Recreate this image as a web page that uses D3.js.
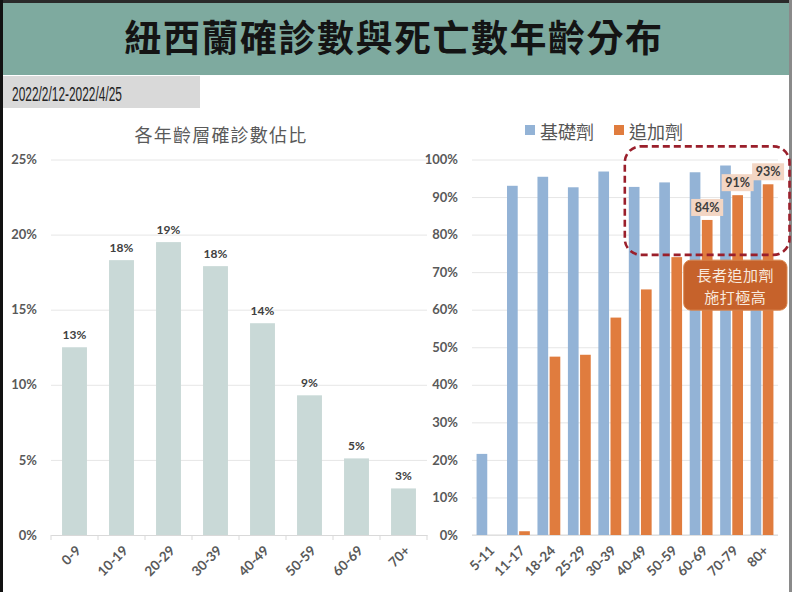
<!DOCTYPE html>
<html>
<head>
<meta charset="utf-8">
<script src="https://cdn.jsdelivr.net/npm/d3@7"></script>
<style>
  html, body { margin: 0; padding: 0; background: #fff; }
  svg { display: block; }
</style>
</head>
<body>
<svg id="chart" width="792" height="592"></svg>
<script>
// ---------- DATA ----------
const titleText = "紐西蘭確診數與死亡數年齡分布";
const dateText = "2022/2/12-2022/4/25";
const leftTitle = "各年齡層確診數佔比";

const ageGroupsL = ["0-9", "10-19", "20-29", "30-39", "40-49", "50-59", "60-69", "70+"];
const casePct = [12.5, 18.3, 19.5, 17.9, 14.1, 9.3, 5.1, 3.1];
const caseLabels = ["13%", "18%", "19%", "18%", "14%", "9%", "5%", "3%"];
const leftTicks = [0, 5, 10, 15, 20, 25];

const ageGroupsR = ["5-11", "11-17", "18-24", "25-29", "30-39", "40-49", "50-59", "60-69", "70-79", "80+"];
const seriesNames = ["基礎劑", "追加劑"];
const primaryPct = [21.6, 93.0, 95.4, 92.6, 96.8, 92.7, 93.9, 96.6, 98.4, 95.0];
const boosterPct = [0, 1.0, 47.5, 48.0, 57.9, 65.4, 74.0, 83.9, 90.5, 93.4];
const labelledGroups = ["60-69", "70-79", "80+"];
const labelTexts = ["84%", "91%", "93%"];
const rightTicks = [0, 10, 20, 30, 40, 50, 60, 70, 80, 90, 100];
const calloutLines = ["長者追加劑", "施打極高"];

// ---------- STYLE ----------
const colors = {
  band: "#7eaa9f", dateBox: "#d9d9d9", leftBar: "#c9d9d7",
  primary: "#93b3d6", booster: "#e07c3e", grid: "#e6e6e6", axisText: "#595959",
  dash: "#9a1f2b", callout: "#c6622b", labelBox: "#f3d6c4"
};
const numFont = "Lato, 'Open Sans', sans-serif";
const cjkFont = "'Noto Sans CJK TC', 'Noto Sans CJK SC', sans-serif";

const svg = d3.select("#chart");

// frame & header
svg.append("rect").attr("x", 0).attr("y", 0).attr("width", 792).attr("height", 592).attr("fill", "#fff");
svg.append("rect").attr("x", 0).attr("y", 2).attr("width", 792).attr("height", 73).attr("fill", colors.band);
svg.append("rect").attr("x", 0).attr("y", 0).attr("width", 792).attr("height", 3).attr("fill", "#2a2a2a");
svg.append("rect").attr("x", 0).attr("y", 0).attr("width", 3).attr("height", 592).attr("fill", "#111");
svg.append("rect").attr("x", 789).attr("y", 0).attr("width", 3).attr("height", 592).attr("fill", "#8a8a8a");
svg.append("text").attr("x", 394).attr("y", 52).attr("text-anchor", "middle")
  .attr("font-family", cjkFont).attr("font-weight", 700).attr("font-size", 37).attr("fill", "#141414")
  .attr("letter-spacing", 1.5)
  .text(titleText);
svg.append("rect").attr("x", 3).attr("y", 76).attr("width", 197).attr("height", 32).attr("fill", colors.dateBox);
svg.append("text").attr("x", 12).attr("y", 100.5).attr("font-family", "'Liberation Sans', Arial, sans-serif")
  .attr("font-size", 20.5).attr("fill", "#222").attr("textLength", 110).attr("lengthAdjust", "spacingAndGlyphs")
  .text(dateText);

// ---------- LEFT CHART ----------
const yL = d3.scaleLinear().domain([0, 25]).range([535, 159.5]);
const xL = d3.scaleBand().domain(ageGroupsL).range([51, 427]).paddingInner(0.47).paddingOuter(0.235);

const gL = svg.append("g");
gL.append("text").attr("x", 221).attr("y", 142).attr("text-anchor", "middle")
  .attr("font-family", cjkFont).attr("font-size", 18).attr("fill", "#5a5a5a").attr("letter-spacing", 1.2)
  .text(leftTitle);

const yAxisL = d3.axisLeft(yL).tickValues(leftTicks).tickFormat(d => d + "%").tickSize(-(427 - 51)).tickPadding(14);
const yAxL = gL.append("g").attr("transform", "translate(51,0)").call(yAxisL);
yAxL.select(".domain").remove();
yAxL.selectAll("line").attr("stroke", colors.grid);
yAxL.selectAll("text").attr("font-family", numFont).attr("font-weight", 700).attr("font-size", 13).attr("fill", colors.axisText);

gL.selectAll(".barL").data(ageGroupsL).join("rect")
  .attr("x", d => xL(d)).attr("width", xL.bandwidth())
  .attr("y", (d, i) => yL(casePct[i])).attr("height", (d, i) => yL(0) - yL(casePct[i]))
  .attr("fill", colors.leftBar);

gL.selectAll(".lblL").data(ageGroupsL).join("text")
  .attr("x", d => xL(d) + xL.bandwidth() / 2).attr("y", (d, i) => yL(casePct[i]) - 8)
  .attr("text-anchor", "middle").attr("font-family", numFont).attr("font-weight", 700).attr("font-size", 12)
  .attr("fill", "#404040").text((d, i) => caseLabels[i]);

// x axis
const xAxisL = d3.axisBottom(xL).tickSize(0).tickFormat("");
const xAxL = gL.append("g").attr("transform", "translate(0,535)").call(xAxisL);
xAxL.select(".domain").attr("stroke", "#d9d9d9");
// ticks at band boundaries
const boundsL = ageGroupsL.map(d => xL(d) - xL.step() * xL.paddingInner() / 2).concat([427]);
gL.selectAll(".tkL").data(boundsL).join("line")
  .attr("x1", d => d).attr("x2", d => d).attr("y1", 535).attr("y2", 540).attr("stroke", "#d9d9d9");
gL.selectAll(".xlL").data(ageGroupsL).join("text")
  .attr("transform", d => `translate(${xL(d) + xL.bandwidth() / 2 + 4},${548}) rotate(-45)`)
  .attr("text-anchor", "end").attr("dy", "0.35em")
  .attr("font-family", numFont).attr("font-weight", 700).attr("font-size", 13.5).attr("fill", colors.axisText)
  .text(d => d);

// ---------- RIGHT CHART ----------
const yR = d3.scaleLinear().domain([0, 100]).range([535, 159.5]);
const x0 = d3.scaleBand().domain(ageGroupsR).range([472, 778]).paddingInner(0.25).paddingOuter(0.15);
const x1 = d3.scaleBand().domain(seriesNames).range([0, x0.bandwidth()]).paddingInner(0.12);

const gR = svg.append("g");
const yAxisR = d3.axisLeft(yR).tickValues(rightTicks).tickFormat(d => d + "%").tickSize(-(778 - 472)).tickPadding(14);
const yAxR = gR.append("g").attr("transform", "translate(472,0)").call(yAxisR);
yAxR.select(".domain").remove();
yAxR.selectAll("line").attr("stroke", colors.grid);
yAxR.selectAll("text").attr("font-family", numFont).attr("font-weight", 700).attr("font-size", 13).attr("fill", colors.axisText);

gR.append("line").attr("x1", 472).attr("x2", 778).attr("y1", 535).attr("y2", 535).attr("stroke", "#d9d9d9");

const seriesVals = [primaryPct, boosterPct];
const seriesColors = [colors.primary, colors.booster];
seriesNames.forEach((s, si) => {
  gR.selectAll(".bar" + si).data(ageGroupsR).join("rect")
    .attr("x", d => x0(d) + x1(s)).attr("width", x1.bandwidth())
    .attr("y", (d, i) => yR(seriesVals[si][i])).attr("height", (d, i) => yR(0) - yR(seriesVals[si][i]))
    .attr("fill", seriesColors[si]);
});

gR.selectAll(".xlR").data(ageGroupsR).join("text")
  .attr("transform", d => `translate(${x0(d) + x0.bandwidth() / 2 + 4},${548}) rotate(-45)`)
  .attr("text-anchor", "end").attr("dy", "0.35em")
  .attr("font-family", numFont).attr("font-weight", 700).attr("font-size", 13.5).attr("fill", colors.axisText)
  .text(d => d);

// legend
const legX = [525, 614];
seriesNames.forEach((s, i) => {
  gR.append("rect").attr("x", legX[i]).attr("y", 125).attr("width", 10).attr("height", 10).attr("fill", seriesColors[i]);
  gR.append("text").attr("x", legX[i] + 15).attr("y", 138.5)
    .attr("font-family", cjkFont).attr("font-size", 18).attr("fill", "#555").text(s);
});

// dashed highlight box
const dashLeft = x0("40-49") - 4;
gR.append("rect").attr("x", dashLeft).attr("y", yR(103.5)).attr("width", 789.5 - dashLeft)
  .attr("height", yR(74.6) - yR(103.5)).attr("rx", 16).attr("ry", 16)
  .attr("fill", "none").attr("stroke", colors.dash).attr("stroke-width", 2.6).attr("stroke-dasharray", "7,4");

// booster value labels
labelledGroups.forEach((g, k) => {
  const i = ageGroupsR.indexOf(g);
  const cx = x0(g) + x1(seriesNames[1]) + x1.bandwidth() / 2;
  const bottom = yR(boosterPct[i]) - 4;
  gR.append("rect").attr("x", cx - 16).attr("y", bottom - 17).attr("width", 32).attr("height", 17).attr("fill", colors.labelBox);
  gR.append("text").attr("x", cx).attr("y", bottom - 4).attr("text-anchor", "middle")
    .attr("font-family", numFont).attr("font-weight", 700).attr("font-size", 12.5).attr("fill", "#3d3d3d")
    .text(labelTexts[k]);
});

// callout
const cbX = x0("60-69") - 6, cbY = yR(73.2), cbW = 787 - cbX, cbH = 50;
gR.append("rect").attr("x", cbX).attr("y", cbY).attr("width", cbW).attr("height", cbH).attr("rx", 7).attr("ry", 7)
  .attr("fill", colors.callout).attr("stroke", "#d9874f").attr("stroke-width", 1);
calloutLines.forEach((t, i) => {
  gR.append("text").attr("x", cbX + cbW / 2).attr("y", cbY + 21 + i * 22).attr("text-anchor", "middle")
    .attr("font-family", cjkFont).attr("font-size", 15).attr("fill", "#f8e9dd").attr("letter-spacing", 0.5).text(t);
});
</script>
</body>
</html>
